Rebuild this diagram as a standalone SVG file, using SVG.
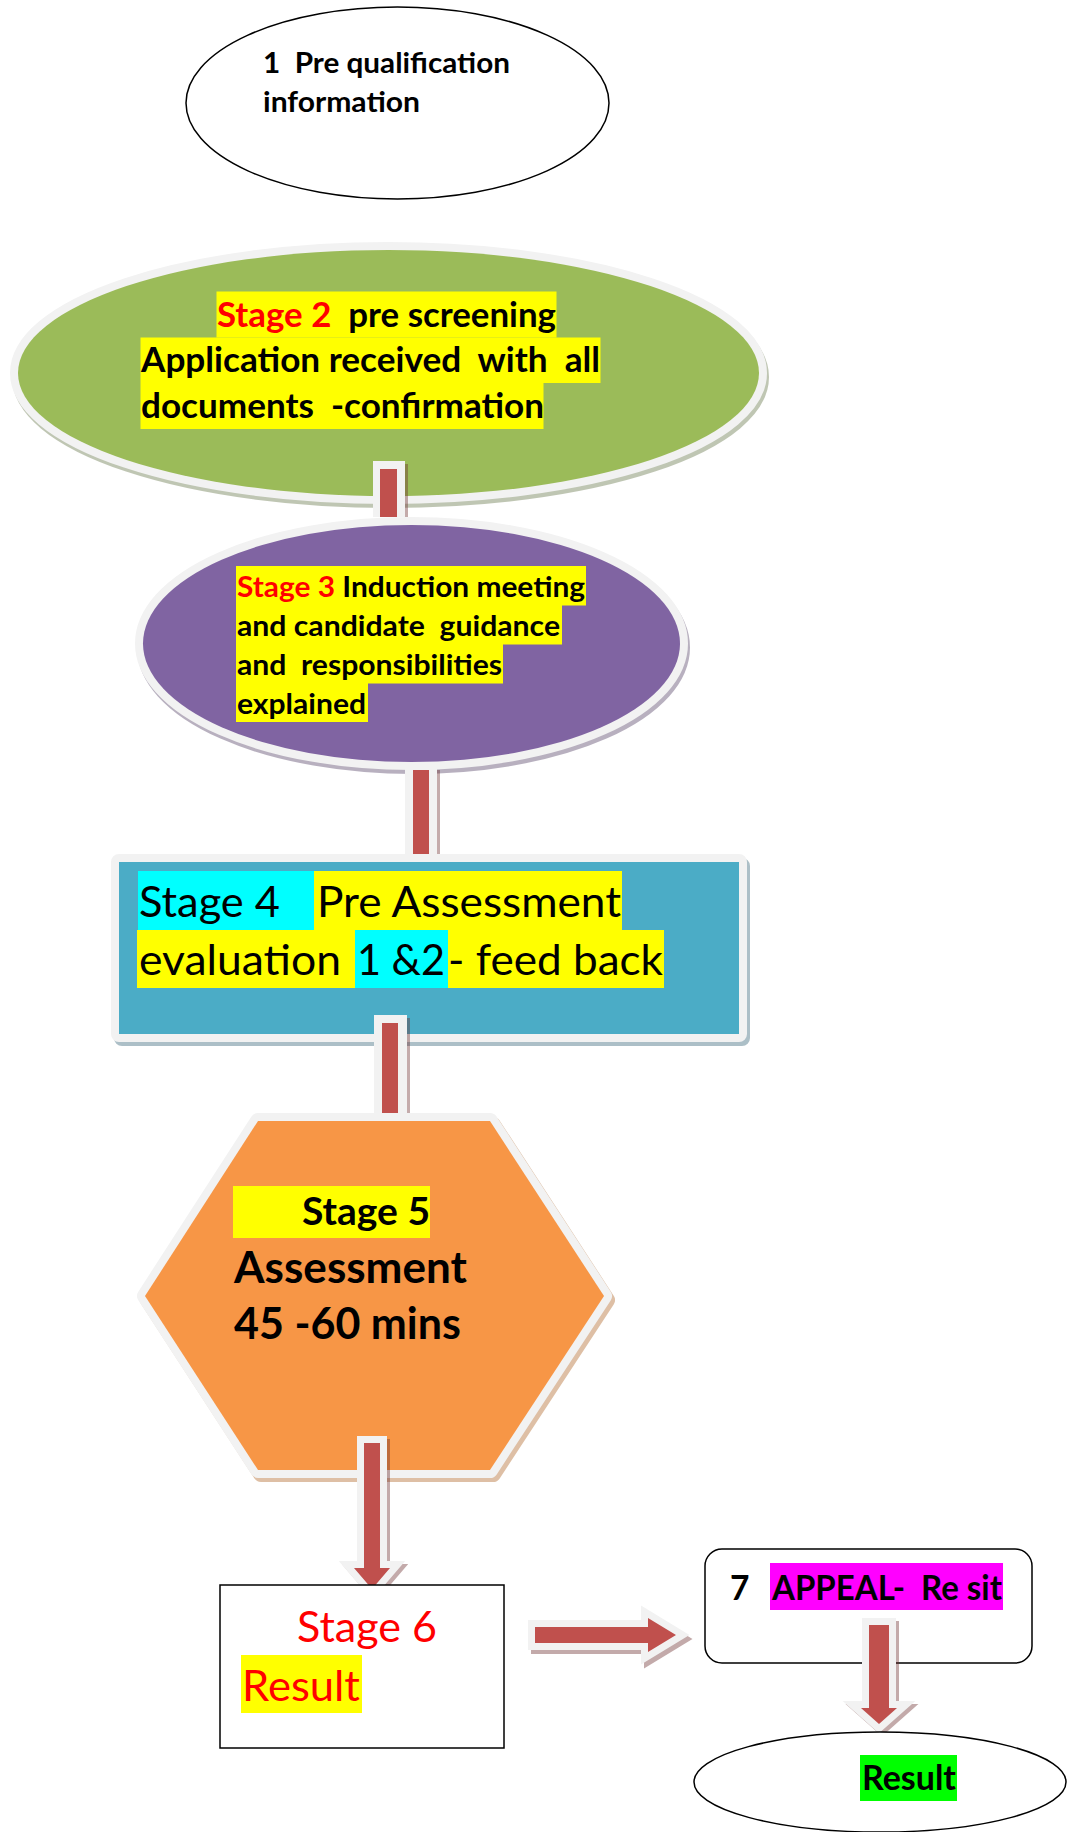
<svg xmlns="http://www.w3.org/2000/svg" width="1071" height="1832" viewBox="0 0 1071 1832">
  <style>
    text { font-family: Lato, "Open Sans", "Liberation Sans", sans-serif; fill: #000; white-space: pre; }
    .b { font-weight: bold; }
    .red { fill: #ff0000; }
    .outline { fill: #fff; stroke: #000; stroke-width: 1.5; }
    .ring { stroke: #f2f2f2; stroke-width: 16; stroke-linejoin: round; paint-order: stroke; }
    .sh { stroke-width: 16; stroke-linejoin: round; opacity: 0.38; }
    .hy { fill: #ffff00; }
    .hc { fill: #00ffff; }
    .hm { fill: #ff00ff; }
    .hg { fill: #00ff00; }
    .halo { fill: #f2f2f2; }
    .body { fill: #c0504d; }
    .ashadow { fill: #6b2c2c; opacity: 0.4; }
    .arrow { fill: #c0504d; stroke: #f2f2f2; stroke-width: 14; stroke-linejoin: miter; stroke-miterlimit: 10; paint-order: stroke; }
    .arrow-sh { fill: #6b2c2c; stroke: #6b2c2c; stroke-width: 14; stroke-linejoin: miter; stroke-miterlimit: 10; opacity: 0.4; }
  </style>

  <rect width="1071" height="1832" fill="#fff"/>

  <!-- 1: pre qualification -->
  <g id="node-1">
    <ellipse class="outline" cx="397.5" cy="103" rx="211.5" ry="96"/>
    <text xml:space="preserve" class="b" x="263" y="73" font-size="29" textLength="247" lengthAdjust="spacingAndGlyphs">1  Pre qualification</text>
    <text xml:space="preserve" class="b" x="263" y="112" font-size="29" textLength="157" lengthAdjust="spacingAndGlyphs">information</text>
  </g>

  <!-- 2: pre screening -->
  <g id="node-2">
    <ellipse class="sh" cx="390.5" cy="377" rx="370.5" ry="123" fill="#5a6b3a" stroke="#5a6b3a"/>
    <ellipse class="ring" cx="388.5" cy="373" rx="370.5" ry="123" fill="#9bbb59"/>
    <rect class="hy" x="216.5" y="291.5" width="340" height="46"/>
    <rect class="hy" x="140.5" y="337.5" width="460" height="45.5"/>
    <rect class="hy" x="140.5" y="383" width="403" height="46"/>
    <text xml:space="preserve" class="b" x="217" y="326.5" font-size="33.5" textLength="339" lengthAdjust="spacingAndGlyphs"><tspan class="red">Stage 2</tspan>  pre screening</text>
    <text xml:space="preserve" class="b" x="141" y="372" font-size="33.5" textLength="459" lengthAdjust="spacingAndGlyphs">Application received  with  all</text>
    <text xml:space="preserve" class="b" x="141" y="417.5" font-size="33.5" textLength="403" lengthAdjust="spacingAndGlyphs">documents  -confirmation</text>
  </g>

  <!-- 3: induction -->
  <g id="node-3">
    <ellipse class="sh" cx="413.5" cy="647.5" rx="268.5" ry="118.5" fill="#46325a" stroke="#46325a"/>
    <ellipse class="ring" cx="411.5" cy="643.5" rx="268.5" ry="118.5" fill="#8064a2"/>
    <rect class="hy" x="236" y="566" width="350" height="39.5"/>
    <rect class="hy" x="236" y="605" width="326" height="39.5"/>
    <rect class="hy" x="236" y="644" width="267" height="39.5"/>
    <rect class="hy" x="236" y="683" width="132" height="39"/>
    <text xml:space="preserve" class="b" x="237" y="596.5" font-size="29" textLength="348" lengthAdjust="spacingAndGlyphs"><tspan class="red">Stage 3</tspan> Induction meeting</text>
    <text xml:space="preserve" class="b" x="237" y="635.5" font-size="29" textLength="323" lengthAdjust="spacingAndGlyphs">and candidate  guidance</text>
    <text xml:space="preserve" class="b" x="237" y="674.5" font-size="29" textLength="265" lengthAdjust="spacingAndGlyphs">and  responsibilities</text>
    <text xml:space="preserve" class="b" x="237" y="713.5" font-size="29" textLength="129" lengthAdjust="spacingAndGlyphs">explained</text>
  </g>

  <!-- 4: pre assessment -->
  <g id="node-4">
    <rect class="sh" x="122" y="866" width="620" height="172" fill="#285a6e" stroke="#285a6e" stroke-linejoin="miter"/>
    <rect class="ring" x="119" y="862" width="620" height="172" fill="#4bacc6" stroke-linejoin="miter"/>
    <rect class="hc" x="138" y="871" width="176" height="59"/>
    <rect class="hy" x="314" y="871" width="308" height="59"/>
    <rect class="hy" x="137" y="930" width="218" height="58"/>
    <rect class="hc" x="355" y="930" width="93" height="58"/>
    <rect class="hy" x="448" y="930" width="216" height="58"/>
    <text x="139" y="916.5" font-size="43" textLength="141" lengthAdjust="spacingAndGlyphs">Stage 4</text>
    <text x="317" y="916.5" font-size="43" textLength="304" lengthAdjust="spacingAndGlyphs">Pre Assessment</text>
    <text x="139" y="975" font-size="43" textLength="202" lengthAdjust="spacingAndGlyphs">evaluation</text>
    <text x="357" y="975" font-size="43" textLength="88" lengthAdjust="spacingAndGlyphs">1 &amp;2</text>
    <text x="448" y="975" font-size="43" textLength="215" lengthAdjust="spacingAndGlyphs">- feed back</text>
  </g>

  <!-- 5: assessment -->
  <g id="node-5">
    <polygon class="sh" points="261,1125 493,1125 607,1300 493,1474 261,1474 148,1300" fill="#aa5a14" stroke="#aa5a14"/>
    <polygon class="ring" points="258,1121 490,1121 604,1296 490,1470 258,1470 145,1296" fill="#f79646"/>
    <rect class="hy" x="233" y="1186" width="197" height="52"/>
    <text class="b" x="302" y="1225" font-size="38" textLength="128" lengthAdjust="spacingAndGlyphs">Stage 5</text>
    <text class="b" x="234" y="1283" font-size="43" textLength="233" lengthAdjust="spacingAndGlyphs">Assessment</text>
    <text class="b" x="234" y="1339" font-size="43" textLength="227" lengthAdjust="spacingAndGlyphs">45 -60 mins</text>
  </g>

  <!-- 7: appeal / re sit -->
  <g id="node-7">
    <rect class="outline" x="705" y="1549" width="327" height="114" rx="17"/>
    <rect class="hm" x="770" y="1563" width="233" height="47"/>
    <text class="b" x="730" y="1599.5" font-size="33.5">7</text>
    <text xml:space="preserve" class="b" x="772" y="1599.5" font-size="33.5" textLength="230" lengthAdjust="spacingAndGlyphs">APPEAL-  Re sit</text>
  </g>

  <!-- block arrows between the stages -->
  <g id="connectors">
    <g id="c-2-3">
      <rect class="ashadow" x="376" y="464" width="32" height="53"/>
      <rect class="halo" x="373" y="461" width="32" height="56"/>
      <rect class="body" x="380" y="469" width="17" height="48"/>
    </g>
    <g id="c-3-4">
      <rect class="ashadow" x="408" y="770" width="32" height="84"/>
      <rect class="halo" x="405" y="762" width="32" height="92"/>
      <rect class="body" x="413" y="770" width="16" height="84"/>
    </g>
    <g id="c-4-5">
      <rect class="ashadow" x="377" y="1018" width="33" height="95"/>
      <rect class="halo" x="374" y="1015" width="33" height="98"/>
      <rect class="body" x="382" y="1023" width="16" height="90"/>
    </g>
    <g id="c-5-6">
      <path class="arrow-sh" transform="translate(3,3)" d="M364,1443 H380 V1568 H390 L372,1589 L354,1568 H364 Z"/>
      <path class="arrow" d="M364,1443 H380 V1568 H390 L372,1589 L354,1568 H364 Z"/>
    </g>
    <g id="c-6-7">
      <path class="arrow-sh" transform="translate(3,4)" d="M535,1627 H648 V1618 L676,1635 L648,1652 V1643 H535 Z"/>
      <path class="arrow" d="M535,1627 H648 V1618 L676,1635 L648,1652 V1643 H535 Z"/>
    </g>
    <g id="c-7-8">
      <path class="arrow-sh" transform="translate(3,3)" d="M869,1625 H889 V1708 H897 L879,1724 L861,1708 H869 Z"/>
      <path class="arrow" d="M869,1625 H889 V1708 H897 L879,1724 L861,1708 H869 Z"/>
    </g>
  </g>

  <!-- 6: result -->
  <g id="node-6">
    <rect class="outline" x="220" y="1585" width="284" height="163"/>
    <rect class="hy" x="241" y="1655" width="121" height="58"/>
    <text class="red" x="297" y="1642" font-size="43" textLength="140" lengthAdjust="spacingAndGlyphs">Stage 6</text>
    <text class="red" x="242" y="1701" font-size="43" textLength="118" lengthAdjust="spacingAndGlyphs">Result</text>
  </g>

  <!-- 8: final result -->
  <g id="node-8">
    <ellipse class="outline" cx="880" cy="1782" rx="186" ry="50"/>
    <rect class="hg" x="860" y="1755" width="97" height="46"/>
    <text class="b" x="862" y="1789.5" font-size="33.5" textLength="94" lengthAdjust="spacingAndGlyphs">Result</text>
  </g>
</svg>
